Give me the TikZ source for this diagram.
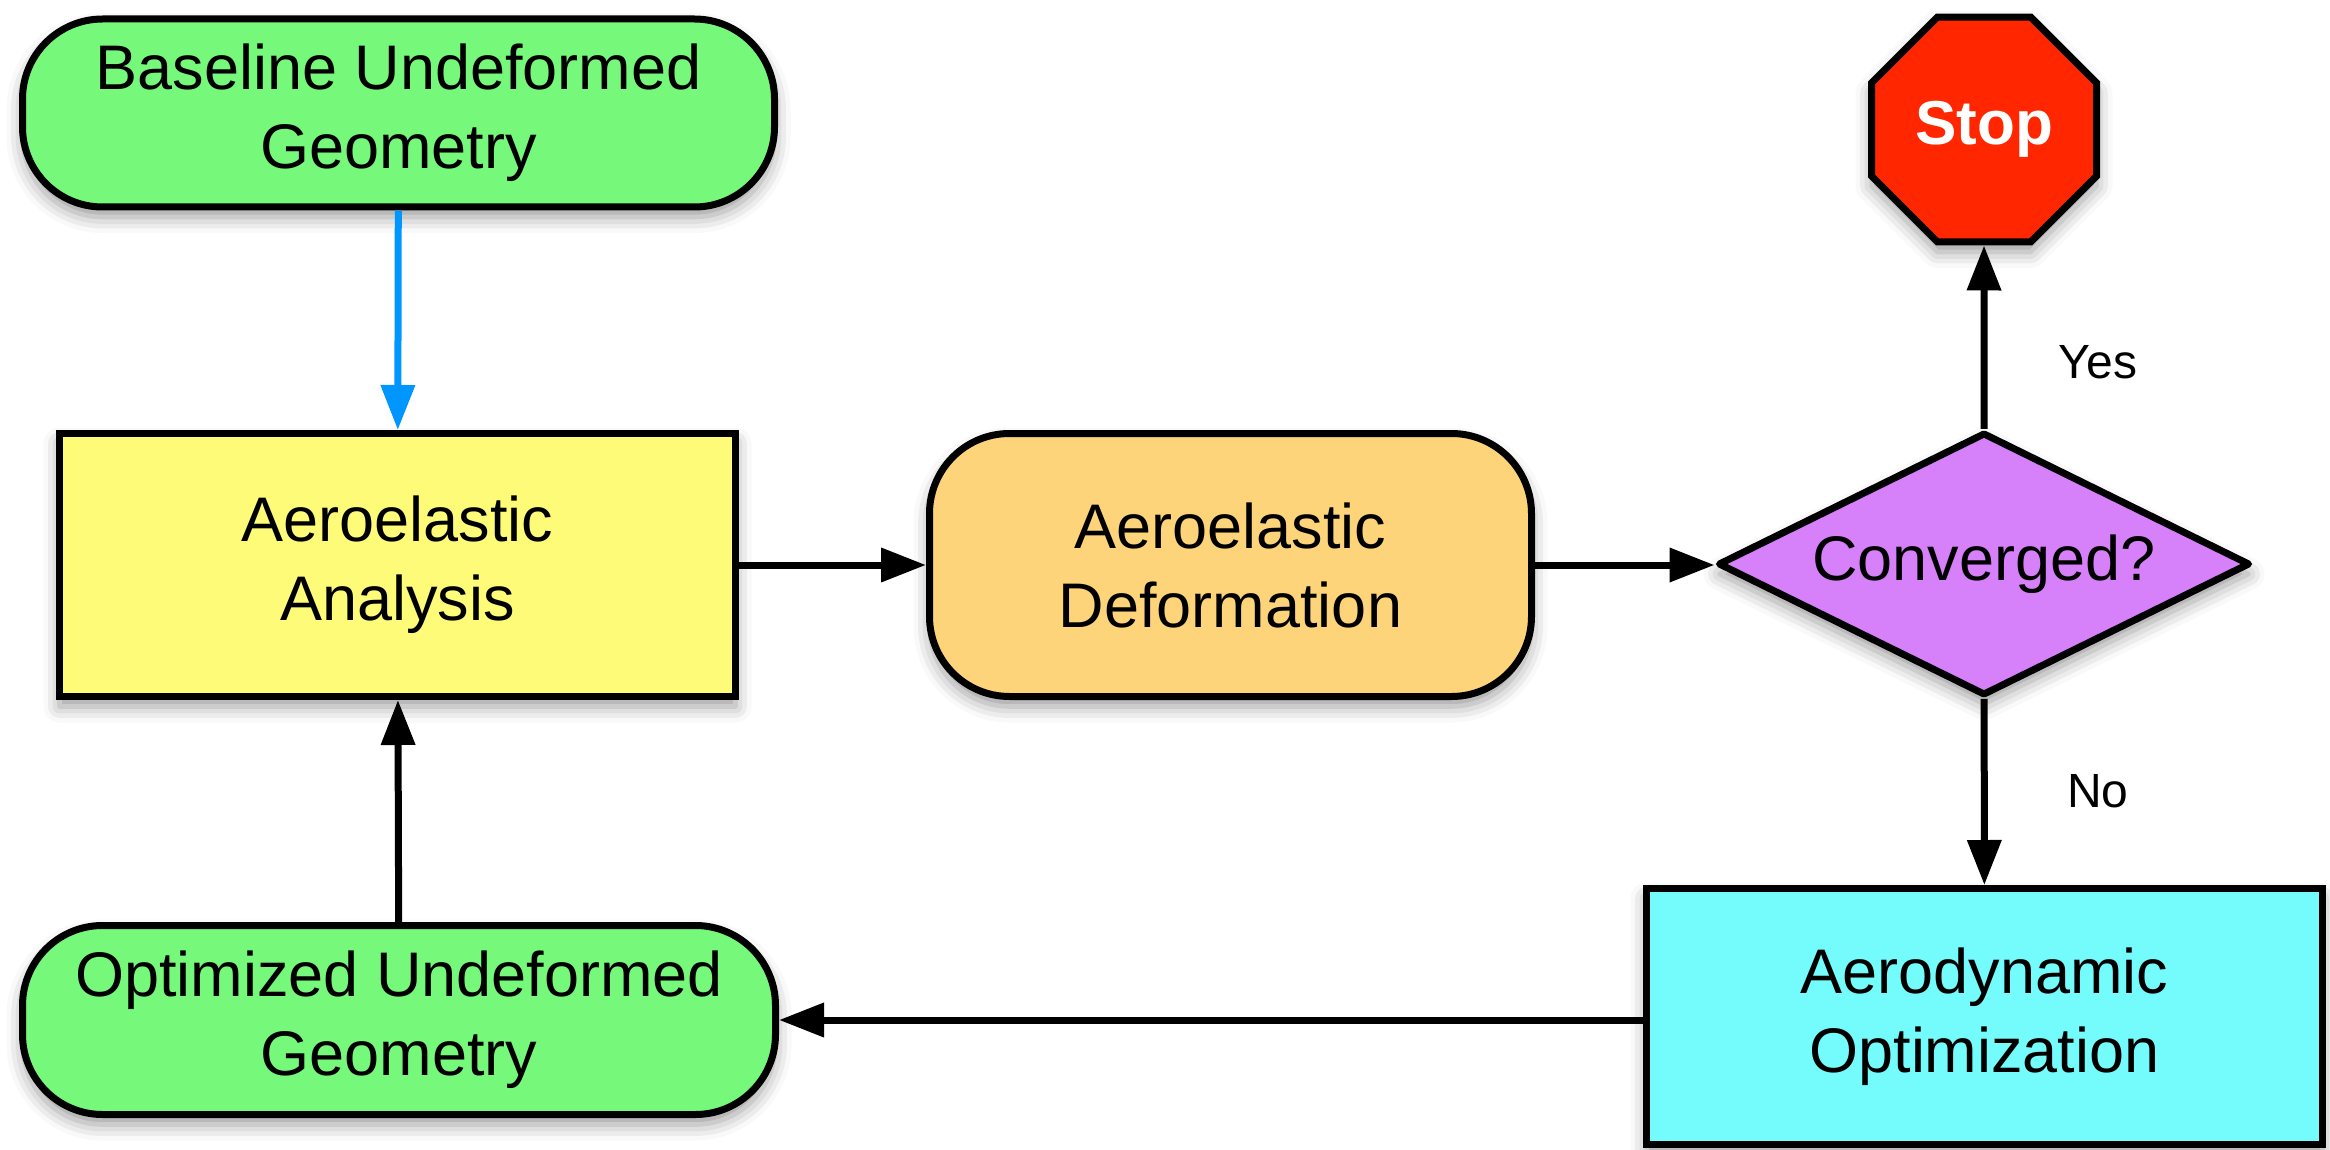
\documentclass[tikz,border=0pt]{standalone}
\usepackage{fontspec}
\setmainfont{Liberation Sans}
\usetikzlibrary{arrows.meta,shapes.geometric,shadows.blur}
\definecolor{cgreen}{HTML}{76F97B}
\definecolor{cyellow}{HTML}{FEFB78}
\definecolor{corange}{HTML}{FDD47A}
\definecolor{cpurple}{HTML}{D680FA}
\definecolor{cred}{HTML}{FF2600}
\definecolor{ccyan}{HTML}{74FCFD}
\definecolor{cblue}{HTML}{0096FF}
\begin{document}
\begin{tikzpicture}[x=1pt,y=-1pt,
  shad/.style={blur shadow={shadow xshift=0pt,shadow yshift=-10pt,shadow blur radius=16pt,shadow opacity=40}},
  box/.style={draw=black, line width=7pt, align=center, inner sep=0pt,
    font=\fontsize{63}{79}\selectfont, shad},
  pill/.style={box, rounded corners=80pt},
  conn/.style={line width=7pt, -{Triangle[length=45pt,width=33pt]}},
  lbl/.style={font=\fontsize{48}{58}\selectfont, inner sep=0pt}
]
\useasboundingbox (0,0) rectangle (2330,1150);
\node[pill, fill=cgreen, minimum width=752pt, minimum height=188pt] (base) at (398.5,113) {Baseline Undeformed\\Geometry};
\node[box, fill=cyellow, minimum width=676pt, minimum height=263pt] (anal) at (397.5,565) {Aeroelastic\\Analysis};
\node[pill, fill=corange, minimum width=602pt, minimum height=263pt] (def) at (1230.5,565) {Aeroelastic\\Deformation};
\node[box, diamond, aspect=2.05, fill=cpurple, line join=round, minimum width=532pt, minimum height=263pt] (conv) at (1984,564) {Converged?};
\node[box, regular polygon, regular polygon sides=8, fill=cred, minimum size=243.5pt, text=white,
  font=\fontsize{62}{79}\selectfont\bfseries] (stop) at (1984,129.5) {Stop};
\node[box, fill=ccyan, minimum width=676pt, minimum height=256pt] (opt) at (1984.5,1016.5) {Aerodynamic\\Optimization};
\node[pill, fill=cgreen, minimum width=753pt, minimum height=189pt] (optgeo) at (399,1020) {Optimized Undeformed\\Geometry};

\draw[conn, draw=cblue] (base) -- (anal);
\draw[conn] (anal) -- (def);
\draw[conn] (def.east) -- (def.east -| conv.west);
\draw[conn] (conv) -- (stop);
\draw[conn] (conv) -- (opt);
\draw[conn] (opt.west |- optgeo.east) -- (optgeo.east);
\draw[conn] (optgeo) -- (anal);

\node[lbl] (yes) at (2098,362) {Yes};
\node[lbl] (no) at (2098,791) {No};
\end{tikzpicture}
\end{document}
